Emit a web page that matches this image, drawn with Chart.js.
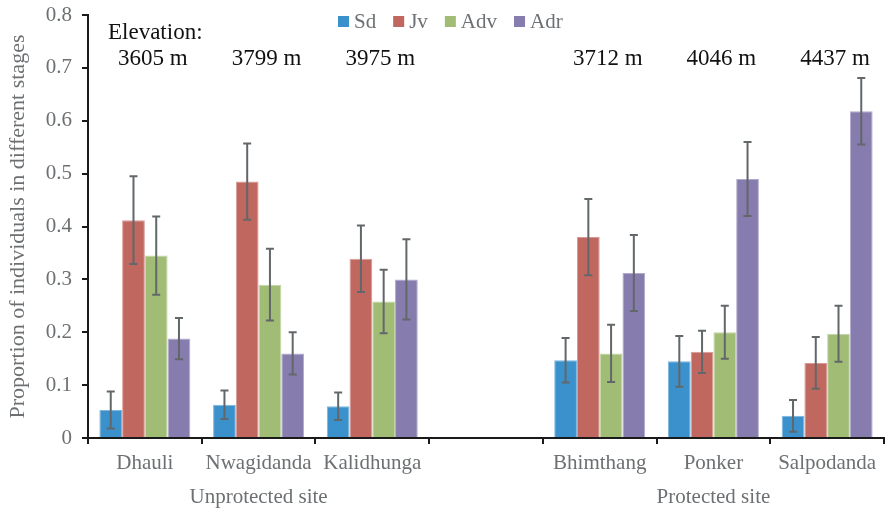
<!DOCTYPE html>
<html>
<head>
<meta charset="utf-8">
<script src="https://cdn.jsdelivr.net/npm/chart.js@4"></script>
<style>
  html, body { margin: 0; padding: 0; background: #fff; }
  #wrap { width: 885px; height: 509px; }
</style>
</head>
<body>
<div id="wrap"><canvas id="myChart"></canvas></div>
<script>
// Datos del gráfico
const sites = ["Dhauli", "Nwagidanda", "Kalidhunga", "", "Bhimthang", "Ponker", "Salpodanda"];
const elevations = ["3605 m", "3799 m", "3975 m", "", "3712 m", "4046 m", "4437 m"];
const groupLabels = ["Unprotected site", "Protected site"];
const groupCenters = [1, 5]; // indice de la categoria bajo la que va cada grupo

const sd = [0.053, 0.063, 0.060, null, 0.147, 0.145, 0.042];
const jv = [0.412, 0.485, 0.339, null, 0.380, 0.163, 0.142];
const adv = [0.345, 0.290, 0.258, null, 0.160, 0.200, 0.197];
const adr = [0.188, 0.160, 0.300, null, 0.312, 0.490, 0.618];

const sdErr = [0.035, 0.027, 0.026, null, 0.042, 0.048, 0.030];
const jvErr = [0.083, 0.072, 0.063, null, 0.072, 0.040, 0.049];
const advErr = [0.074, 0.068, 0.060, null, 0.054, 0.050, 0.053];
const adrErr = [0.039, 0.040, 0.076, null, 0.072, 0.070, 0.063];

const serif = "\"Times New Roman\", \"Liberation Serif\", \"DejaVu Serif\", serif";
const gray = "#6d7072";

// Barras de error
const errorBars = {
    id: "errorBars",
    afterDatasetsDraw(chart) {
        const ctx = chart.ctx;
        const y = chart.scales.y;
        ctx.save();
        ctx.strokeStyle = "#62676a";
        ctx.lineWidth = 2;
        chart.data.datasets.forEach((ds, i) => {
            chart.getDatasetMeta(i).data.forEach((bar, j) => {
                const v = ds.data[j];
                const e = ds.err[j];
                if (v == null || e == null) return;
                const top = y.getPixelForValue(v + e);
                const bot = y.getPixelForValue(v - e);
                ctx.beginPath();
                ctx.moveTo(bar.x, top);
                ctx.lineTo(bar.x, bot);
                ctx.moveTo(bar.x - 4, top);
                ctx.lineTo(bar.x + 4, top);
                ctx.moveTo(bar.x - 4, bot);
                ctx.lineTo(bar.x + 4, bot);
                ctx.stroke();
            });
        });
        ctx.restore();
    }
};

// Textos: leyenda, elevaciones y grupos
const annotations = {
    id: "annotations",
    afterDraw(chart) {
        const ctx = chart.ctx;
        const x = chart.scales.x;
        const area = chart.chartArea;
        ctx.save();

        // leyenda
        ctx.font = "21px " + serif;
        ctx.textBaseline = "middle";
        ctx.textAlign = "left";
        let lx = area.left + 250;
        chart.data.datasets.forEach(ds => {
            ctx.fillStyle = ds.backgroundColor;
            ctx.fillRect(lx, 16, 11, 11);
            ctx.fillStyle = gray;
            ctx.fillText(ds.label, lx + 16, 22);
            lx += 16 + ctx.measureText(ds.label).width + 17;
        });

        // elevaciones
        ctx.font = "23px " + serif;
        ctx.fillStyle = "#111";
        ctx.fillText("Elevation:", area.left + 20, 33);
        ctx.textAlign = "center";
        elevations.forEach((t, i) => {
            if (!t) return;
            ctx.fillText(t, x.getPixelForValue(i) + 8, 59);
        });

        // grupos
        ctx.font = "21px " + serif;
        ctx.fillStyle = gray;
        groupLabels.forEach((t, i) => {
            ctx.fillText(t, x.getPixelForValue(groupCenters[i]), 497);
        });
        ctx.restore();
    }
};

new Chart("myChart", {
    type: "bar",
    data: {
        labels: sites,
        datasets: [
            { label: "Sd", data: sd, err: sdErr, backgroundColor: "#3b91cc", borderColor: "#7db5dd" },
            { label: "Jv", data: jv, err: jvErr, backgroundColor: "#c0675f", borderColor: "#d69a94" },
            { label: "Adv", data: adv, err: advErr, backgroundColor: "#a1bd75", borderColor: "#c3d5a6" },
            { label: "Adr", data: adr, err: adrErr, backgroundColor: "#877cae", borderColor: "#b2aacb" }
        ]
    },
    options: {
        responsive: true,
        maintainAspectRatio: false,
        animation: false,
        layout: { padding: { top: 15, right: 1 } },
        datasets: {
            bar: { barPercentage: 1, categoryPercentage: 0.8, borderWidth: 1 }
        },
        plugins: {
            legend: { display: false },
            tooltip: { enabled: false }
        },
        scales: {
            x: {
                afterFit(scale) { scale.height = 71; scale.paddingLeft = 0; scale.paddingRight = 0; },
                border: { color: "#1a1a1a", width: 2 },
                grid: { offset: true, drawOnChartArea: false, tickLength: 6, color: "#1a1a1a", lineWidth: 2 },
                ticks: { color: gray, font: { family: serif, size: 21 }, padding: 7, maxRotation: 0, autoSkip: false }
            },
            y: {
                min: 0,
                max: 0.8,
                afterFit(scale) { scale.width = 88; scale.paddingTop = 0; scale.paddingBottom = 0; },
                border: { color: "#1a1a1a", width: 2 },
                grid: { drawOnChartArea: false, tickLength: 6, color: "#1a1a1a", lineWidth: 2 },
                ticks: { stepSize: 0.1, color: gray, font: { family: serif, size: 21 }, padding: 10 },
                title: {
                    display: true,
                    text: "Proportion of individuals in different stages",
                    color: gray,
                    font: { family: serif, size: 22 },
                    padding: { top: 5, bottom: 0 }
                }
            }
        }
    },
    plugins: [errorBars, annotations]
});
</script>
</body>
</html>
